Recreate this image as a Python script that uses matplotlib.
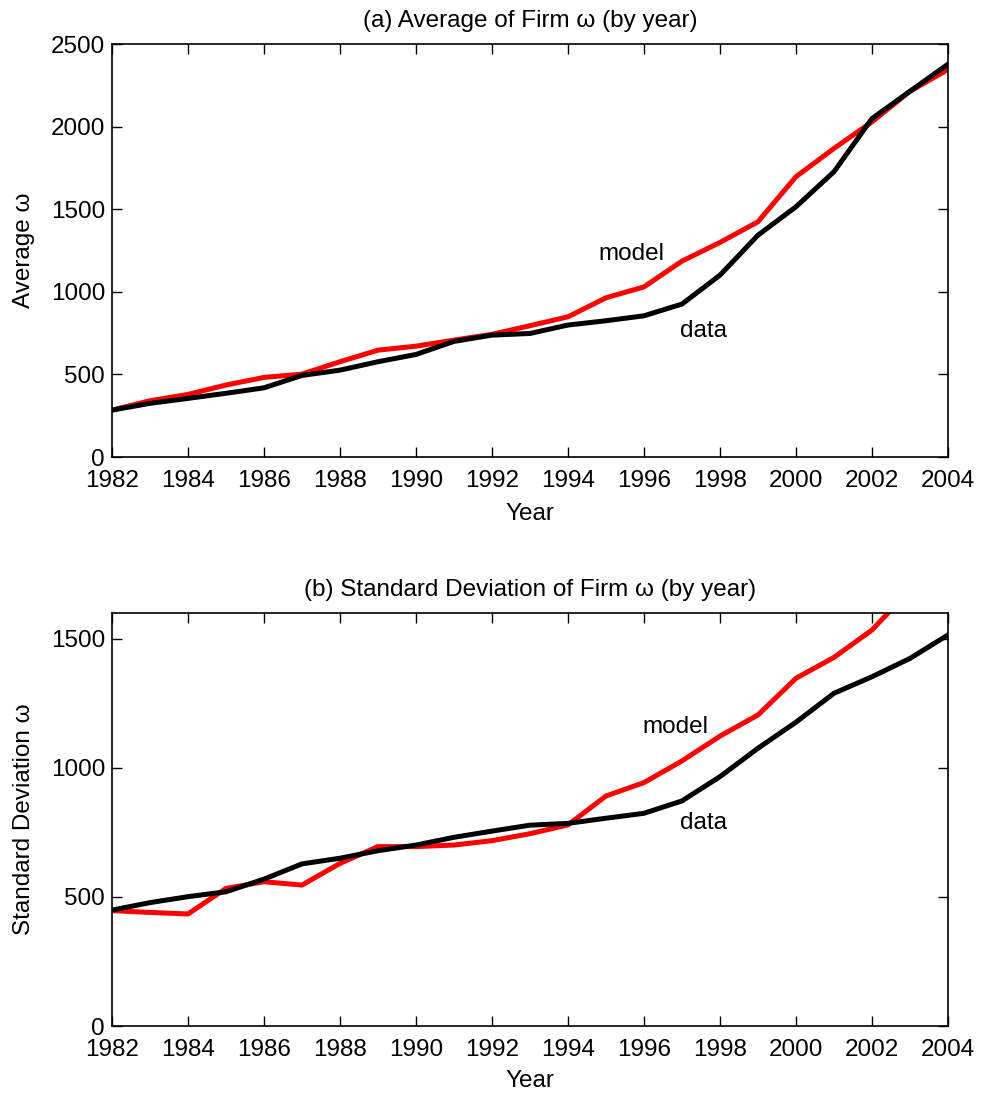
import numpy as np
import matplotlib.pyplot as plt

plt.rcParams['font.family'] = ['Liberation Sans', 'DejaVu Sans']

years = list(range(1982, 2005))

# (a) average of firm omega
avg_data = [284, 325, 355, 386, 419, 494, 526, 577, 621, 700, 738, 748, 799, 825,
            855, 926, 1101, 1343, 1515, 1727, 2049, 2214, 2378]
avg_model = [284, 341, 379, 436, 482, 502, 577, 647, 671, 708, 743, 795, 849, 964,
             1030, 1186, 1299, 1424, 1697, 1868, 2029, 2214, 2346]

# (b) standard deviation of firm omega
sd_data = [449, 478, 501, 520, 569, 628, 650, 679, 701, 731, 755, 778, 785, 805,
           824, 872, 966, 1076, 1177, 1289, 1353, 1424, 1515]
sd_model = [447, 440, 434, 533, 559, 546, 630, 695, 695, 701, 718, 745, 779, 891,
            943, 1027, 1123, 1205, 1347, 1428, 1534, 1690, 1840]

fs = 17.5
fig = plt.figure(figsize=(9.84, 10.95), dpi=100)
ax1 = fig.add_axes([0.1138, 0.5826, 0.8496, 0.3772])
ax2 = fig.add_axes([0.1138, 0.0630, 0.8496, 0.3772])

def style_axis(ax, ylim, yticks):
    ax.set_xlim(1982, 2004)
    ax.set_ylim(*ylim)
    ax.set_xticks(range(1982, 2005, 2))
    ax.set_yticks(yticks)
    ax.tick_params(direction='in', top=True, right=True, length=7, width=1,
                   labelsize=fs)
    ax.tick_params(axis='x', pad=9)
    ax.tick_params(axis='y', pad=5)
    for s in ax.spines.values():
        s.set_linewidth(1.2)

ax1.plot(years, avg_model, color='red', lw=3.6, solid_joinstyle='miter')
ax1.plot(years, avg_data, color='black', lw=3.6, solid_joinstyle='miter')
style_axis(ax1, (0, 2500), range(0, 2501, 500))
ax1.set_title('(a) Average of Firm ω (by year)', fontsize=fs, pad=12)
ax1.set_xlabel('Year', fontsize=fs, labelpad=8)
ax1.set_ylabel('Average ω', fontsize=fs, labelpad=11)
ax1.text(1994.8, 1228, 'model', fontsize=fs, va='center', ha='left')
ax1.text(1996.95, 762, 'data', fontsize=fs, va='center', ha='left')

ax2.plot(years, sd_model, color='red', lw=3.6, solid_joinstyle='miter')
ax2.plot(years, sd_data, color='black', lw=3.6, solid_joinstyle='miter')
style_axis(ax2, (0, 1600), [0, 500, 1000, 1500])
ax2.set_title('(b) Standard Deviation of Firm ω (by year)', fontsize=fs, pad=12)
ax2.set_xlabel('Year', fontsize=fs, labelpad=7)
ax2.set_ylabel('Standard Deviation ω', fontsize=fs, labelpad=11)
ax2.text(1995.97, 1158, 'model', fontsize=fs, va='center', ha='left')
ax2.text(1996.95, 786, 'data', fontsize=fs, va='center', ha='left')

fig.savefig('out.png', dpi=100)
